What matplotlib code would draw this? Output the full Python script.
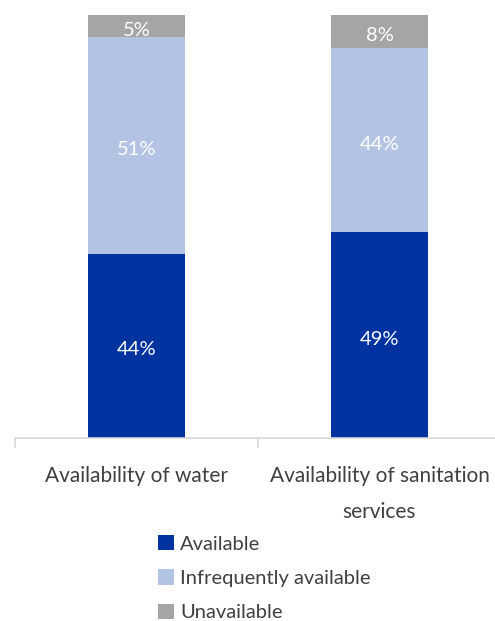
import numpy as np
import matplotlib.pyplot as plt

plt.rcParams['font.family'] = ['Lato', 'DejaVu Sans']

categories = ['Availability of water', 'Availability of sanitation\nservices']
series_names = ['Available', 'Infrequently available', 'Unavailable']
available = [43.6, 48.6]
infrequent = [51.2, 43.6]
unavailable = [5.2, 7.8]
colors = ['#0033A0', '#B3C3E3', '#A5A5A5']

W, H = 495, 621
fig = plt.figure(figsize=(W / 100, H / 100), dpi=100)
ax = fig.add_axes([15 / W, (H - 438) / H, 480 / W, 423 / H])

x = np.arange(len(categories))
bottom = np.zeros(len(categories))
for vals, name, c in zip([available, infrequent, unavailable], series_names, colors):
    ax.bar(x, vals, width=0.4, bottom=bottom, color=c, label=name, edgecolor='none')
    for xi, v, b in zip(x, vals, bottom):
        ax.annotate('%.0f%%' % v, (xi, b + v / 2), xytext=(0, -3), textcoords='offset points',
                    ha='center', va='center', color='white', fontsize=14.5)
    bottom += np.array(vals)

ax.set_xlim(-0.5, -0.5 + 480 / 243)
ax.set_ylim(0, 100)
ax.set_yticks([])
for s in ['top', 'right', 'left']:
    ax.spines[s].set_visible(False)
ax.spines['bottom'].set_color('#d9d9d9')
ax.spines['bottom'].set_linewidth(1.2)

ax.set_xticks(x)
ax.set_xticklabels(categories, fontsize=15, color='#404040', linespacing=2.0, va='top')
ax.tick_params(axis='x', which='major', length=0, pad=20)
ax.set_xticks([-0.5, 0.5], minor=True)
ax.tick_params(axis='x', which='minor', length=7, color='#d9d9d9', width=1.2)

fig.legend(loc='upper left', bbox_to_anchor=(148 / W, (H - 525) / H), frameon=False,
           fontsize=14.5, handlelength=0.8, handleheight=0.8, handletextpad=0.3,
           labelspacing=0.82, borderpad=0, labelcolor='#404040')

fig.savefig('out.png', dpi=100)
